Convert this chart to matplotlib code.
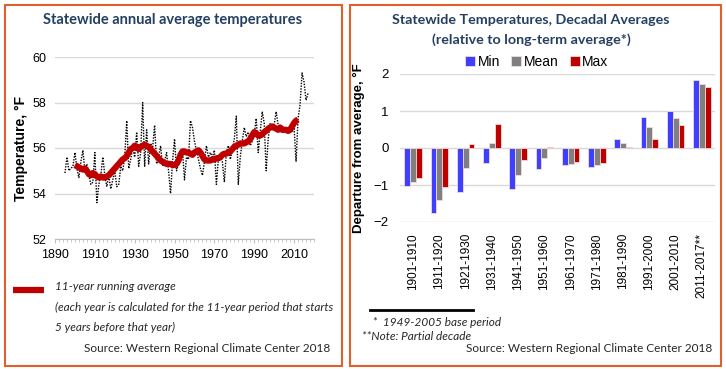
import matplotlib.pyplot as plt
import numpy as np
from matplotlib.patches import Rectangle
from matplotlib.lines import Line2D

# --- left chart: annual statewide temperature (deg F), 1895-2017 ---
annual_temp = [
    54.9, 55.6, 55.0, 55.1, 55.2, 55.8, 55.1, 54.7, 55.4, 55.9,  # 1895-1904
    55.0, 55.3, 54.8, 54.4, 54.5, 55.8, 53.6, 54.4, 54.8, 55.6,  # 1905-1914
    54.8, 54.3, 54.8, 54.2, 54.6, 55.0, 54.3, 54.4, 55.2, 55.0,  # 1915-1924
    55.6, 57.2, 55.1, 55.5, 56.0, 55.6, 56.7, 55.2, 55.8, 58.0,  # 1925-1934
    55.2, 56.8, 55.3, 56.2, 56.0, 57.0, 55.3, 55.6, 56.1, 55.2,  # 1935-1944
    55.4, 55.8, 55.0, 54.0, 55.4, 56.4, 55.0, 55.3, 55.6, 55.9,  # 1945-1954
    54.6, 55.6, 55.5, 57.2, 56.9, 56.3, 55.9, 55.5, 55.1, 54.8,  # 1955-1964
    55.4, 56.1, 55.6, 55.8, 55.6, 55.9, 54.4, 55.5, 55.6, 55.4,  # 1965-1974
    54.5, 55.8, 56.1, 55.5, 55.9, 56.4, 57.4, 54.4, 55.6, 56.3,  # 1975-1984
    56.9, 56.5, 56.7, 56.1, 56.3, 56.6, 57.3, 55.8, 56.7, 57.6,  # 1985-1994
    57.1, 55.0, 56.4, 57.1, 56.8, 57.0, 57.6, 57.0, 56.9, 56.7,  # 1995-2004
    56.8, 56.7, 56.9, 56.8, 56.7, 56.9, 55.4, 57.3, 57.9, 59.3,  # 2005-2014
    58.9, 58.1, 58.4,                                            # 2015-2017
]
annual_start = 1895

# 11-year running average as drawn, 1900-2012
running_avg = [
    55.25, 55.2, 55.15, 55.1, 55.05, 55.1, 55.0, 54.85, 54.8, 54.9,    # 1900-1909
    54.85, 54.75, 54.7, 54.75, 54.7, 54.7, 54.75, 54.8, 54.9, 55.0,    # 1910-1919
    55.1, 55.2, 55.3, 55.4, 55.5, 55.55, 55.65, 55.8, 55.95, 56.0,     # 1920-1929
    56.1, 56.05, 55.95, 56.05, 56.1, 56.15, 56.1, 56.05, 55.95, 55.85, # 1930-1939
    55.75, 55.65, 55.55, 55.45, 55.4, 55.35, 55.3, 55.3, 55.3, 55.25,  # 1940-1949
    55.25, 55.3, 55.45, 55.7, 55.85, 55.85, 55.8, 55.8, 55.75, 55.7,   # 1950-1959
    55.8, 55.85, 55.9, 55.8, 55.65, 55.5, 55.45, 55.45, 55.45, 55.5,   # 1960-1969
    55.5, 55.55, 55.55, 55.6, 55.7, 55.75, 55.75, 55.8, 55.85, 55.95,  # 1970-1979
    56.05, 56.1, 56.15, 56.2, 56.2, 56.2, 56.25, 56.3, 56.4, 56.55,    # 1980-1989
    56.7, 56.65, 56.55, 56.55, 56.6, 56.7, 56.75, 56.85, 56.9, 56.95,  # 1990-1999
    56.9, 56.85, 56.8, 56.9, 56.8, 56.8, 56.8, 56.75, 56.8, 56.95,     # 2000-2009
    57.1, 57.2, 57.25,                                                 # 2010-2012
]
running_start = 1900

# --- right chart: decadal departures from 1949-2005 average (deg F) ---
decades = ["1901-1910", "1911-1920", "1921-1930", "1931-1940", "1941-1950",
           "1951-1960", "1961-1970", "1971-1980", "1981-1990", "1991-2000",
           "2001-2010", "2011-2017**"]
dep_min = [-1.04, -1.75, -1.20, -0.40, -1.11, -0.56, -0.46, -0.52, 0.25, 0.85, 1.00, 1.85]
dep_mean = [-0.93, -1.40, -0.55, 0.14, -0.72, -0.27, -0.43, -0.46, 0.14, 0.56, 0.82, 1.74]
dep_max = [-0.82, -1.06, 0.10, 0.66, -0.32, 0.04, -0.38, -0.41, 0.03, 0.25, 0.63, 1.65]

W, H = 726, 369
BORDER = "#E0602A"
TITLE_C = "#243F60"
CAL = ["Lato", "DejaVu Sans"]
ARIAL = ["Liberation Sans", "DejaVu Sans"]


def box(x0, y0, x1, y1):
    """pixel box (top-left origin) -> figure rect"""
    return [x0 / W, 1 - y1 / H, (x1 - x0) / W, (y1 - y0) / H]


def fx(x):
    return x / W


def fy(y):
    return 1 - y / H


fig = plt.figure(figsize=(W / 100, H / 100), dpi=100)

# panel borders
for x0, x1 in [(5, 342), (350, 721)]:
    fig.patches.append(Rectangle((fx(x0), fy(366)), fx(x1) - fx(x0), fy(5) - fy(366),
                                 transform=fig.transFigure, fill=False,
                                 edgecolor=BORDER, linewidth=1.5))

# ---------------- left chart ----------------
ax1 = fig.add_axes(box(55, 57, 314, 239))
yrs_a = np.arange(annual_start, annual_start + len(annual_temp))
yrs_r = np.arange(running_start, running_start + len(running_avg))
ax1.plot(yrs_a, annual_temp, color="black", linestyle=(0, (1, 1)), linewidth=1.0)
ax1.plot(yrs_r, running_avg, color="#C00000", linewidth=4.5, solid_capstyle="butt")
ax1.set_xlim(1890, 2020)
ax1.set_ylim(52, 60)
ax1.set_yticks(range(52, 61, 2))
ax1.set_xticks(range(1890, 2011, 20))
ax1.set_xticks(range(1890, 2021, 2), minor=True)
ax1.grid(axis="y", color="#D9D9D9", linewidth=1)
ax1.set_axisbelow(True)
for s in ["top", "right", "left"]:
    ax1.spines[s].set_visible(False)
ax1.spines["bottom"].set_color("#BFBFBF")
ax1.tick_params(axis="y", length=0, labelsize=9, pad=6)
ax1.tick_params(axis="x", which="major", length=3, color="#BFBFBF", labelsize=9, pad=4)
ax1.tick_params(axis="x", which="minor", length=2, color="#BFBFBF")
for lab in ax1.get_xticklabels() + ax1.get_yticklabels():
    lab.set_family(ARIAL)
ax1.set_ylabel("Temperature, \u00b0F", fontsize=10, fontweight="bold", family=ARIAL, labelpad=3)

fig.text(fx(173), fy(20), "Statewide annual average temperatures", ha="center", va="center",
         fontsize=10.5, fontweight="bold", color=TITLE_C, family=CAL)

fig.add_artist(Line2D([fx(13), fx(44)], [fy(290), fy(290)], color="#C00000", linewidth=4.5,
                      solid_capstyle="butt", transform=fig.transFigure))
legend_lines = ["11-year running average",
                "(each year is calculated for the 11-year period that starts",
                "5 years before that year)"]
for i, t in enumerate(legend_lines):
    fig.text(fx(55), fy(287 + 20 * i), t, ha="left", va="center", fontsize=8.5,
             style="italic", color="#262626", family=CAL)
fig.text(fx(330), fy(349), "Source: Western Regional Climate Center 2018", ha="right",
         va="center", fontsize=8.5, color="#262626", family=CAL)

# ---------------- right chart ----------------
ax2 = fig.add_axes(box(400, 74, 715, 222))
x = np.arange(len(decades))
bw = 0.22
for off, vals, col, lab in [(-bw, dep_min, "#3F3FFF", "Min"),
                            (0, dep_mean, "#808080", "Mean"),
                            (bw, dep_max, "#C00000", "Max")]:
    ax2.bar(x + off, vals, width=bw, color=col, edgecolor="#F2DCDB", linewidth=0.6, label=lab)
ax2.set_xlim(-0.5, len(decades) - 0.5)
ax2.set_ylim(-2, 2)
ax2.set_yticks(range(-2, 3))
ax2.grid(axis="y", color="#D9D9D9", linewidth=1)
ax2.set_axisbelow(True)
for s in ax2.spines.values():
    s.set_visible(False)
ax2.set_xticks(x)
ax2.set_xticklabels(decades, rotation=90, fontsize=8.5, family=ARIAL)
ax2.tick_params(axis="both", length=0)
ax2.tick_params(axis="x", pad=8)
ax2.tick_params(axis="y", labelsize=9.5, pad=8)
for lab in ax2.get_yticklabels():
    lab.set_family(ARIAL)
ax2.set_ylabel("Departure from average, \u00b0F", fontsize=9.5, fontweight="bold",
               family=ARIAL, labelpad=6)
ax2.legend(loc="center", bbox_to_anchor=(fx(537), fy(62)), bbox_transform=fig.transFigure,
           ncol=3, frameon=False, handlelength=0.7, handleheight=0.7,
           handletextpad=0.2, columnspacing=0.8, prop={"family": ARIAL, "size": 10})

fig.text(fx(531), fy(20), "Statewide Temperatures, Decadal Averages", ha="center", va="center",
         fontsize=10.3, fontweight="bold", color=TITLE_C, family=CAL)
fig.text(fx(531), fy(40), "(relative to long-term average*)", ha="center", va="center",
         fontsize=10.3, fontweight="bold", color=TITLE_C, family=CAL)

fig.add_artist(Line2D([fx(370), fx(473)], [fy(310), fy(310)], color="black", linewidth=2,
                      transform=fig.transFigure))
fig.text(fx(370), fy(322), " *  1949-2005 base period", ha="left", va="center", fontsize=8.5,
         style="italic", color="#262626", family=CAL)
fig.text(fx(362), fy(336), "**Note: Partial decade", ha="left", va="center", fontsize=8.5,
         style="italic", color="#262626", family=CAL)
fig.text(fx(712), fy(349), "Source: Western Regional Climate Center 2018", ha="right",
         va="center", fontsize=8.5, color="#262626", family=CAL)

fig.savefig("out.png", dpi=100)
